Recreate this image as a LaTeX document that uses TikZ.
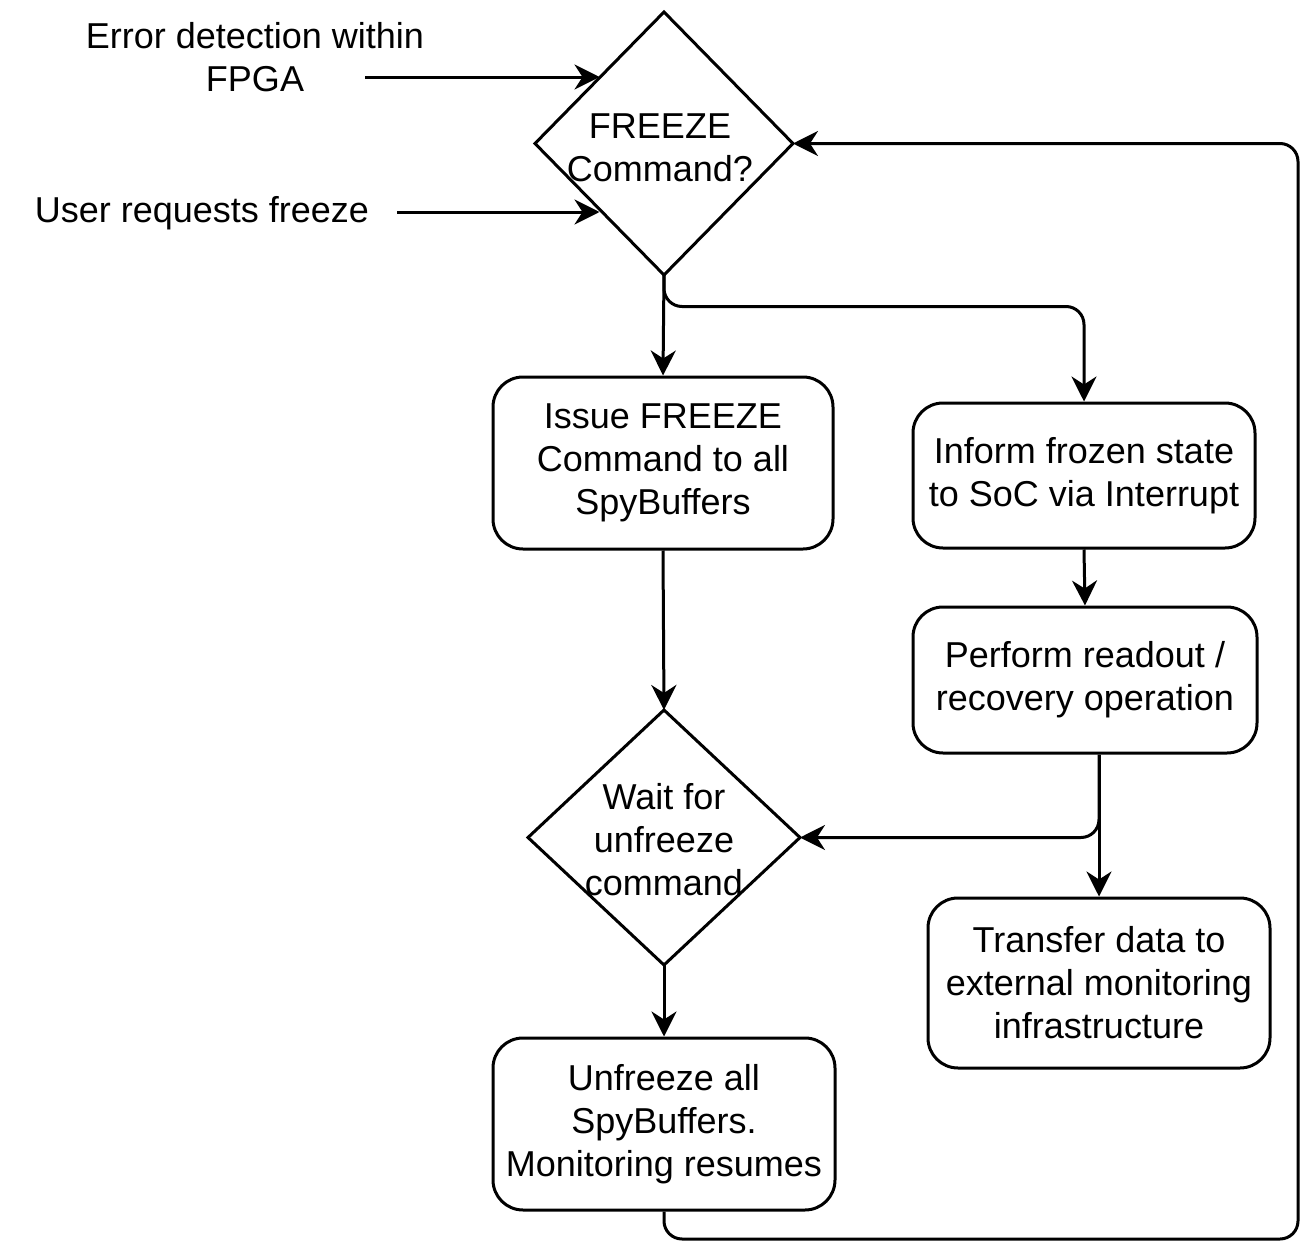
\documentclass[tikz,border=0pt]{standalone}
\usepackage{fontspec}
\setmainfont{Liberation Sans}
\usetikzlibrary{shapes.geometric,arrows.meta}

\begin{document}
\begin{tikzpicture}[x=0.5pt,y=-0.5pt,
  every node/.style={font=\fontsize{18}{21.5}\selectfont, align=center},
  stepbox/.style={draw, line width=1.5pt, rounded corners=15pt, inner sep=0pt},
  decision/.style={draw, diamond, line width=1.5pt, inner sep=0pt, outer sep=0pt},
  flow/.style={line width=1.5pt, rounded corners=9pt,
    -{Stealth[length=12.5pt,width=12.5pt,inset=4pt]}},
  plain/.style={inner sep=0pt}]

  \useasboundingbox (0,0) rectangle (1314,1242);

  % decisions
  \node[decision, minimum width=129pt, minimum height=131.5pt,
        label={[xshift=-2pt,yshift=-2.25pt]center:FREEZE\\Command?}] (d1) at (664,143.5) {};
  \node[decision, minimum width=136pt, minimum height=127.5pt,
        label={[yshift=-1pt]center:Wait for\\unfreeze\\command}] (d2) at (664,837.5) {};

  % process steps
  \node[stepbox, minimum width=170pt, minimum height=86pt] (b1) at (663,463)
    {Issue FREEZE\\Command to all\\SpyBuffers};
  \node[stepbox, minimum width=171pt, minimum height=72.5pt] (b2) at (1084,475.5)
    {Inform frozen state\\to SoC via Interrupt};
  \node[stepbox, minimum width=172pt, minimum height=73pt] (b3) at (1085,680)
    {Perform readout /\\recovery operation};
  \node[stepbox, minimum width=171pt, minimum height=85pt] (b4) at (1099,983)
    {Transfer data to\\external monitoring\\infrastructure};
  \node[stepbox, minimum width=171pt, minimum height=86pt] (b5) at (664,1124)
    {Unfreeze all\\SpyBuffers.\\Monitoring resumes};

  % trigger sources
  \node[plain] (err) at (255,57) {Error detection within\\FPGA};
  \node[plain] (usr) at (202,213) {User requests freeze};
  \coordinate (errsrc) at (365,77);
  \coordinate (usrsrc) at (397,212);
  \coordinate (loopc) at (1298,1239);

  % connectors
  \draw[flow] (errsrc) -- (errsrc -| d1.north west);
  \draw[flow] (usrsrc) -- (usrsrc -| d1.south west);
  \draw[flow] (d1.south) -- (b1.north);
  \draw[flow] (d1.south) |- ([yshift=47.5pt]b2.north) -- (b2.north);
  \draw[flow] (b1.south) -- (d2.north);
  \draw[flow] (b2.south) -- (b3.north);
  \draw[flow] (b4.north |- b3.south) -- (b4.north);
  \draw[flow] (b4.north |- b3.south) |- (d2.east);
  \draw[flow] (d2.south) -- (b5.north);
  \draw[flow] (b5.south) |- (loopc) |- (d1.east);
\end{tikzpicture}
\end{document}
